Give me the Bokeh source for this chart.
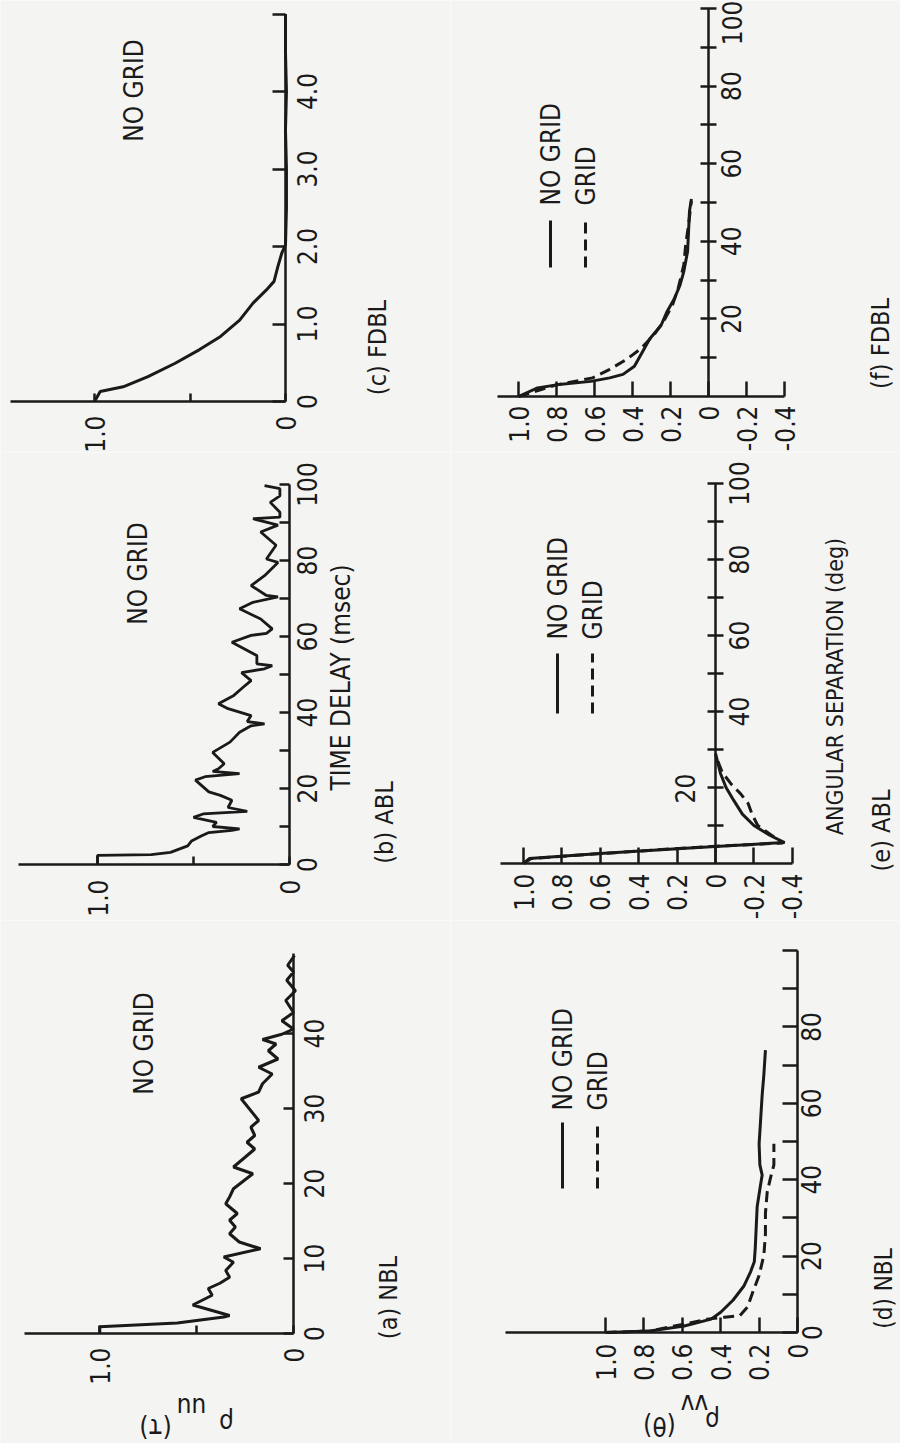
import math
from bokeh.plotting import figure
from bokeh.models import Range1d, LinearAxis, FixedTicker, Label, Arrow
from bokeh.layouts import row, column
from bokeh.embed import file_html
from bokeh.resources import INLINE

FONT = "DejaVu Sans Condensed, Liberation Sans, sans-serif"
INK = "#1a1a1a"
BG = "#f4f4f2"

# ---------------- data ----------------
# (a) NBL, no grid : time delay (msec) vs rho_uu
a_t = [0, 0.9, 1.4, 2.2, 2.4, 3.8, 5.1, 6.0, 6.7, 7.5, 8.4, 9.5, 10.2, 11.3, 12.2,
       13.3, 14.2, 15.1, 16.0, 17.3, 18.2, 19.3, 21.3, 22.2, 23.5, 24.6, 25.5, 26.4,
       27.5, 28.4, 31.3, 32.2, 33.3, 34.6, 35.5, 36.6, 37.7, 38.6, 39.2, 39.9, 40.6,
       41.7, 42.8, 44.4, 45.7, 47.1, 48.2, 49.1, 50.4]
a_rho = [1.0, 1.0, 0.6, 0.36, 0.33, 0.52, 0.42, 0.44, 0.38, 0.33, 0.35, 0.31, 0.36, 0.17, 0.28,
         0.33, 0.30, 0.33, 0.29, 0.35, 0.33, 0.31, 0.21, 0.31, 0.25, 0.20, 0.24, 0.20,
         0.22, 0.18, 0.27, 0.18, 0.16, 0.11, 0.18, 0.08, 0.13, 0.09, 0.16, 0.06, 0.0,
         0.06, 0.0, 0.04, -0.01, 0.035, 0.0, 0.03, -0.005]

# (b) ABL, no grid
b_t = [0, 2.4, 2.6, 3.2, 4.9, 6.2, 7.5, 8.4, 9.0, 9.4, 10.0, 11.1, 12.4, 13.3, 14.0,
       15.0, 16.9, 18.2, 19.1, 22.2, 23.1, 23.9, 24.5, 25.2, 26.5, 29.5, 32.2, 34.8,
       36.5, 37.0, 37.6, 39.2, 41.0, 42.3, 44.5, 46.7, 48.4, 50.5, 51.5, 52.3, 52.8,
       55.0, 58.5, 60.3, 60.8, 62.0, 64.6, 67.3, 69.0, 70.4, 70.8, 73.4, 76.0, 79.5,
       80.4, 84.0, 87.5, 89.3, 91.0, 91.4, 92.7, 95.3, 97.0, 98.9, 99.7]
b_rho = [1.0, 1.0, 0.72, 0.62, 0.53, 0.51, 0.46, 0.42, 0.30, 0.26, 0.40, 0.38, 0.50, 0.45, 0.22,
         0.32, 0.30, 0.36, 0.42, 0.49, 0.44, 0.26, 0.40, 0.37, 0.34, 0.40, 0.31, 0.26,
         0.20, 0.13, 0.22, 0.20, 0.32, 0.37, 0.29, 0.24, 0.20, 0.25, 0.13, 0.09, 0.17,
         0.17, 0.30, 0.20, 0.12, 0.09, 0.15, 0.26, 0.19, 0.06, 0.12, 0.20, 0.13, 0.06,
         0.12, 0.07, 0.15, 0.06, 0.19, 0.05, 0.05, 0.10, 0.05, 0.05, 0.13]

# (c) FDBL, no grid
c_t = [0, 0.13, 0.19, 0.32, 0.49, 0.67, 0.84, 1.05, 1.27, 1.44, 1.55, 1.74, 1.91, 2.02,
       2.5, 3.0, 3.5, 4.0, 4.5, 5.0]
c_rho = [1.0, 0.97, 0.85, 0.72, 0.58, 0.45, 0.34, 0.24, 0.17, 0.10, 0.06, 0.04, 0.02, 0.0,
         -0.005, -0.005, 0.0, -0.005, 0.0, 0.0]

# (d) NBL : angular separation (deg) vs rho_vv
d_theta_nogrid = [0, 0.4, 1.7, 3.5, 5.3, 8.5, 12.1, 15.8, 18.5, 22.1, 27.6, 33.0, 38.5,
                  41.2, 43.9, 49.4, 54.9, 62.2, 67.6, 73.9]
d_rho_nogrid = [1.0, 0.77, 0.59, 0.45, 0.40, 0.335, 0.28, 0.245, 0.225, 0.22, 0.215, 0.21,
                0.193, 0.184, 0.196, 0.2, 0.193, 0.184, 0.175, 0.167]
d_theta_grid = [0, 0.4, 2.2, 3.5, 4.0, 4.4, 6.7, 10.3, 14.9, 20.3, 25.8, 31.2, 36.7, 40.4,
                43.9, 49.4]
d_rho_grid = [1.0, 0.77, 0.59, 0.47, 0.38, 0.30, 0.26, 0.235, 0.20, 0.175, 0.167, 0.167,
              0.158, 0.141, 0.123, 0.123]

# (e) ABL
e_theta_nogrid = [0, 1.3, 2.6, 3.9, 4.5, 5.5, 7.5, 10.0, 13.0, 16.6, 20.0, 23.7, 29.0]
e_rho_nogrid = [1.0, 0.97, 0.6, 0.2, 0.0, -0.36, -0.28, -0.2, -0.14, -0.095, -0.055, -0.026, 0.0]
e_theta_grid = [0, 1.3, 2.6, 3.9, 4.5, 5.4, 7.5, 10.0, 13.0, 15.8, 18.4, 21.0, 24.0, 28.5]
e_rho_grid = [1.0, 0.96, 0.6, 0.21, 0.02, -0.35, -0.29, -0.22, -0.19, -0.17, -0.13, -0.08,
              -0.035, 0.0]

# (f) FDBL
f_theta_nogrid = [0, 2.2, 3.0, 3.9, 4.8, 5.7, 7.8, 11.3, 14.8, 18.3, 21.7, 25.2, 28.7, 32.2,
                  37.4, 42.6, 47.8, 50.9]
f_rho_nogrid = [1.0, 0.90, 0.80, 0.62, 0.52, 0.45, 0.39, 0.35, 0.31, 0.25, 0.22, 0.18, 0.15,
                0.13, 0.11, 0.105, 0.10, 0.09]
f_theta_grid = [0, 3.0, 4.8, 7.0, 9.6, 12.2, 15.7, 19.1, 23.5, 27.8, 33.9, 39.1, 44.3, 50.4]
f_rho_grid = [1.0, 0.80, 0.61, 0.52, 0.43, 0.36, 0.29, 0.24, 0.19, 0.16, 0.13, 0.12, 0.105, 0.09]

# ticks
rho_ticks_uu = [0, 0.5, 1.0]
rho_ticks_d = [0, 0.2, 0.4, 0.6, 0.8, 1.0]
rho_ticks_ef = [-0.4, -0.2, 0, 0.2, 0.4, 0.6, 0.8, 1.0]
t_ticks_a = [0, 10, 20, 30, 40]
t_ticks_b = [0, 10, 20, 30, 40, 50, 60, 70, 80, 90, 100]
t_ticks_c = [0, 1, 2, 3, 4, 5]
th_ticks_d = [0, 10, 20, 30, 40, 50, 60, 70, 80, 90, 100]
th_ticks_ef = [10, 20, 30, 40, 50, 60, 70, 80, 90, 100]

# ---------------- layout (page pixel geometry) ----------------
# left, top, width, height, x of rho=0, px per rho unit, y of t=0, px per t unit
GEOM = {
    "c": (0, 0, 450, 452, 285, 191.0, 401, 77.5),
    "b": (0, 452, 450, 468, 289, 192.0, 864, 3.8),
    "a": (0, 920, 450, 523, 293, 193.7, 1333, 7.5),
    "f": (450, 0, 450, 452, 708, 190.0, 396, 3.88),
    "e": (450, 452, 450, 468, 715, 192.0, 863, 3.8),
    "d": (450, 920, 450, 523, 797, 192.0, 1332, 3.82),
}

TICK_FS = "26px"


def make_fig(key):
    left, top, w, h, r0, rppu, t0, tppu = GEOM[key]
    xr = Range1d((r0 - left) / rppu, (r0 - left - w) / rppu)
    yr = Range1d(-(top + h - t0) / tppu, (t0 - top) / tppu)
    p = figure(width=w, height=h, x_range=xr, y_range=yr, output_backend="svg",
               toolbar_location=None, x_axis_location=None, y_axis_location=None,
               min_border=0)
    p.grid.visible = False
    p.outline_line_color = None
    p.background_fill_color = BG
    p.border_fill_color = BG
    return p


def fmt(v, style):
    if style == "int":
        return str(int(v))
    if v == 0:
        return "0"
    return "%.1f" % v


def rho_axis(p, ticks, shown, bounds, tick_in, standoff):
    labels = {v: (fmt(v, "dec") if v in shown else "") for v in ticks}
    ax = LinearAxis(fixed_location=0, bounds=bounds, ticker=FixedTicker(ticks=ticks),
                    major_label_overrides=labels, major_label_orientation=math.pi / 2,
                    major_tick_in=tick_in, major_tick_out=0, major_label_standoff=standoff,
                    axis_line_width=2.5, axis_line_color=INK,
                    major_tick_line_width=2.5, major_tick_line_color=INK,
                    minor_tick_line_color=None,
                    major_label_text_font=FONT, major_label_text_font_size=TICK_FS,
                    major_label_text_color=INK)
    p.add_layout(ax, "below")


def time_axis(p, ticks, shown, style, bounds, tick_in, tick_out, standoff, line=True):
    labels = {v: (fmt(v, style) if v in shown else "") for v in ticks}
    ax = LinearAxis(fixed_location=0, bounds=bounds, ticker=FixedTicker(ticks=ticks),
                    major_label_overrides=labels, major_label_orientation="parallel",
                    major_tick_in=tick_in, major_tick_out=tick_out,
                    major_label_standoff=standoff,
                    axis_line_width=2.5, axis_line_color=INK if line else None,
                    major_tick_line_width=2.5, major_tick_line_color=INK if line else None,
                    minor_tick_line_color=None,
                    major_label_text_font=FONT, major_label_text_font_size=TICK_FS,
                    major_label_text_color=INK)
    p.add_layout(ax, "left")


def txt(p, key, X, Y, text, size="25px", angle=math.pi / 2, align="center"):
    left, top, w, h = GEOM[key][:4]
    p.add_layout(Label(x=X - left, y=h - (Y - top), x_units="screen", y_units="screen",
                       text=text, angle=angle, text_align=align, text_baseline="middle",
                       text_font=FONT, text_font_size=size, text_color=INK))


def keyline(p, key, X, Y1, Y2, dash="solid"):
    left, top, w, h = GEOM[key][:4]
    p.add_layout(Arrow(end=None, x_start=X - left, y_start=h - (Y1 - top),
                       x_end=X - left, y_end=h - (Y2 - top),
                       start_units="screen", end_units="screen",
                       line_width=3, line_color=INK, line_dash=dash))


DASH = "11 6"

# ---- (c) FDBL ----
pc = make_fig("c")
rho_axis(pc, rho_ticks_uu, [0, 1.0], (0, 1.44), 8, 14)
time_axis(pc, t_ticks_c, [0, 1, 2, 3, 4], "dec", (0, 5.0), 0, 13, -44)
pc.line(c_rho, c_t, line_width=3, line_color=INK)
txt(pc, "c", 133, 90, "NO GRID", "26px")
txt(pc, "c", 377, 347, "(c) FDBL")

# ---- (b) ABL ----
pb = make_fig("b")
rho_axis(pb, rho_ticks_uu, [0, 1.0], (0, 1.41), 8, 15)
time_axis(pb, t_ticks_b, [0, 20, 40, 60, 80, 100], "int", (0, 100), 0, 10, -37)
pb.line(b_rho, b_t, line_width=2.8, line_color=INK)
txt(pb, "b", 137, 573, "NO GRID", "26px")
txt(pb, "b", 340, 677, "TIME DELAY (msec)", "26px")
txt(pb, "b", 384, 822, "(b) ABL")

# ---- (a) NBL ----
pa = make_fig("a")
rho_axis(pa, rho_ticks_uu, [0, 1.0], (0, 1.39), 8, 14)
time_axis(pa, t_ticks_a, t_ticks_a, "int", (0, 50.7), 0, 10, -40)
pa.line(a_rho, a_t, line_width=3, line_color=INK)
txt(pa, "a", 143, 1043, "NO GRID", "26px")
txt(pa, "a", 388, 1297, "(a) NBL")
txt(pa, "a", 226, 1422, "ρ", "26px", angle=math.pi)
txt(pa, "a", 191, 1406, "uu", "26px", angle=math.pi)
txt(pa, "a", 155, 1427, "(τ)", "26px", angle=math.pi)

# ---- (f) FDBL ----
pf = make_fig("f")
rho_axis(pf, rho_ticks_ef, rho_ticks_ef, (-0.4, 1.11), 15, 9)
time_axis(pf, th_ticks_ef, [20, 40, 60, 80, 100], "int", (0, 100), 8, 8, -41)
pf.line(f_rho_nogrid, f_theta_nogrid, line_width=3, line_color=INK)
pf.line(f_rho_grid, f_theta_grid, line_width=3, line_color=INK, line_dash=DASH)
keyline(pf, "f", 550, 267, 220)
txt(pf, "f", 550, 205, "NO GRID", "26px", align="left")
keyline(pf, "f", 585, 267, 220, DASH)
txt(pf, "f", 585, 205, "GRID", "26px", align="left")
txt(pf, "f", 880, 343, "(f) FDBL")

# ---- (e) ABL ----
pe = make_fig("e")
rho_axis(pe, rho_ticks_ef, rho_ticks_ef, (-0.4, 1.12), 16, 10)
time_axis(pe, th_ticks_ef, [40, 60, 80, 100], "int", (0, 100), 8, 8, -41)
pe.line(e_rho_nogrid, e_theta_nogrid, line_width=3, line_color=INK)
pe.line(e_rho_grid, e_theta_grid, line_width=3, line_color=INK, line_dash=DASH)
keyline(pe, "e", 557, 713, 653)
txt(pe, "e", 557, 639, "NO GRID", "26px", align="left")
keyline(pe, "e", 592, 713, 653, DASH)
txt(pe, "e", 592, 639, "GRID", "26px", align="left")
txt(pe, "e", 834, 686, "ANGULAR SEPARATION (deg)", "23px")
txt(pe, "e", 881, 830, "(e) ABL")
txt(pe, "e", 684, 788, "20", TICK_FS)

# ---- (d) NBL ----
pd_ = make_fig("d")
rho_axis(pd_, rho_ticks_d, rho_ticks_d, (0, 1.52), 15, 11)
time_axis(pd_, th_ticks_d, [0, 20, 40, 60, 80], "int", (0, 100), 0, 15, -39)
pd_.line(d_rho_nogrid, d_theta_nogrid, line_width=3, line_color=INK)
pd_.line(d_rho_grid, d_theta_grid, line_width=3, line_color=INK, line_dash=DASH)
keyline(pd_, "d", 562, 1188, 1122)
txt(pd_, "d", 562, 1110, "NO GRID", "26px", align="left")
keyline(pd_, "d", 597, 1188, 1122, DASH)
txt(pd_, "d", 597, 1110, "GRID", "26px", align="left")
txt(pd_, "d", 883, 1288, "(d) NBL", "24px")
txt(pd_, "d", 712, 1420, "ρ", "26px", angle=math.pi)
txt(pd_, "d", 694, 1403, "vv", "26px", angle=math.pi)
txt(pd_, "d", 659, 1425, "(θ)", "26px", angle=math.pi)

layout = column(row(pc, pf), row(pb, pe), row(pa, pd_))
open("out.html", "w").write(file_html(layout, INLINE))
